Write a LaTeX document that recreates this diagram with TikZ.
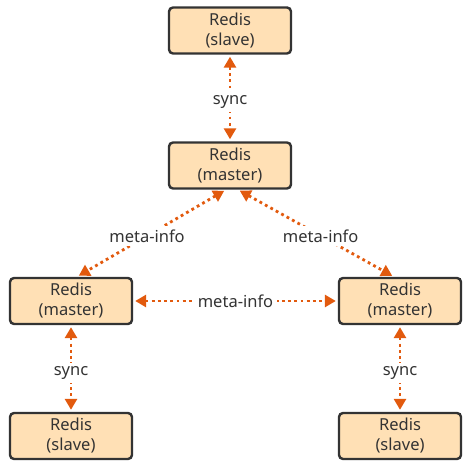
\documentclass[tikz,border=0pt]{standalone}
\usepackage{fontspec}
\setmainfont{Noto Sans}
\usetikzlibrary{arrows.meta}
\definecolor{boxfill}{HTML}{FFE0B5}
\definecolor{boxline}{HTML}{333333}
\definecolor{arr}{HTML}{E25A0E}
\definecolor{txt}{HTML}{333333}
\begin{document}
\begin{tikzpicture}[x=1pt,y=1pt,
  redis/.style={draw=boxline, line width=2.4pt, fill=boxfill, rounded corners=4pt,
    minimum width=122pt, minimum height=46pt, align=center, text=txt,
    font=\fontsize{16.5}{20}\selectfont, inner sep=0pt},
  link/.style={draw=arr, line width=2.8pt, dash pattern=on 2.8pt off 3.4pt,
    {Triangle[length=11pt,width=12pt]}-{Triangle[length=11pt,width=12pt]},
    shorten >=2pt, shorten <=2pt},
  lbl/.style={fill=white, text=txt, font=\fontsize{16.5}{20}\selectfont, inner sep=3.5pt}
]
\useasboundingbox (0,0) rectangle (470,470);
\node[redis] (ts) at (230,439.5) {Redis\\(slave)};
\node[redis] (tm) at (230,304.5) {Redis\\(master)};
\node[redis] (lm) at (71,169) {Redis\\(master)};
\node[redis] (rm) at (400,169) {Redis\\(master)};
\node[redis] (ls) at (71,34) {Redis\\(slave)};
\node[redis] (rs) at (400,34) {Redis\\(slave)};

\draw[link] (ts.south) -- node[lbl, pos=0.55]{sync} (tm.north);
\draw[link] ([xshift=-4pt]tm.south) -- node[lbl, pos=0.53]{meta-info} ([xshift=6pt]lm.north);
\draw[link] ([xshift=8pt]tm.south) -- node[lbl, pos=0.53]{meta-info} ([xshift=-6pt]rm.north);
\draw[link] (lm.east) -- node[lbl]{meta-info} (rm.west);
\draw[link] (lm.south) -- node[lbl, pos=0.55]{sync} (ls.north);
\draw[link] (rm.south) -- node[lbl, pos=0.55]{sync} (rs.north);
\end{tikzpicture}
\end{document}
